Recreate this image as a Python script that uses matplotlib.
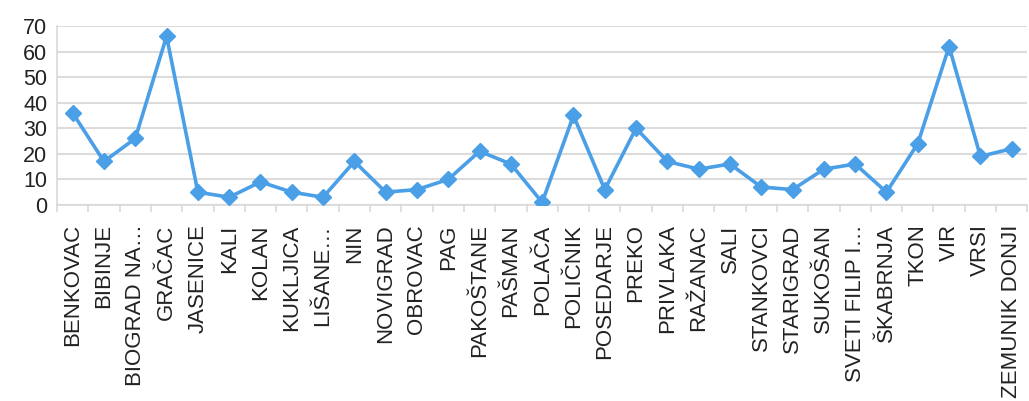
import matplotlib
matplotlib.use("Agg")
import matplotlib.pyplot as plt
from matplotlib.ticker import FixedLocator

categories = ["BENKOVAC", "BIBINJE", "BIOGRAD NA…", "GRAČAC", "JASENICE", "KALI", "KOLAN",
              "KUKLJICA", "LIŠANE…", "NIN", "NOVIGRAD", "OBROVAC", "PAG", "PAKOŠTANE",
              "PAŠMAN", "POLAČA", "POLIČNIK", "POSEDARJE", "PREKO", "PRIVLAKA", "RAŽANAC",
              "SALI", "STANKOVCI", "STARIGRAD", "SUKOŠAN", "SVETI FILIP I…", "ŠKABRNJA",
              "TKON", "VIR", "VRSI", "ZEMUNIK DONJI"]
values = [36, 17, 26, 66, 5, 3, 9, 5, 3, 17, 5, 6, 10, 21, 16, 1, 35, 6, 30, 17, 14,
          16, 7, 6, 14, 16, 5, 24, 62, 19, 22]
y_ticks = [0, 10, 20, 30, 40, 50, 60, 70]

plt.rcParams['font.family'] = ['Liberation Sans', 'DejaVu Sans']

fig = plt.figure(figsize=(10.29, 4.01), dpi=100)
ax = fig.add_axes([0.0554, 0.489, 0.943, 0.446])

x = list(range(len(categories)))
ax.plot(x, values, color="#4a9fe6", linewidth=2.6, marker="D", markersize=8.5,
        markeredgecolor="#4a9fe6", markerfacecolor="#4a9fe6", zorder=3)

ax.set_xlim(-0.5, len(categories) - 0.5)
ax.set_ylim(0, 70)
ax.set_yticks(y_ticks)
ax.set_yticklabels([str(v) for v in y_ticks], fontsize=15.5, color="#222222")
ax.grid(axis="y", color="#dcdcdc", linewidth=1.5, zorder=0)

ax.set_xticks(x)
ax.set_xticklabels(categories, rotation=90, fontsize=16, color="#222222")
ax.tick_params(axis="x", which="major", length=0, pad=14)
ax.xaxis.set_minor_locator(FixedLocator([i - 0.5 for i in range(len(categories) + 1)]))
ax.tick_params(axis="x", which="minor", length=5, color="#d9d9d9", width=1.2)
ax.tick_params(axis="y", length=0, pad=7)

for s in ["top", "right"]:
    ax.spines[s].set_visible(False)
ax.spines["left"].set_color("#d9d9d9")
ax.spines["bottom"].set_color("#d9d9d9")
ax.spines["left"].set_linewidth(1.2)
ax.spines["bottom"].set_linewidth(1.2)

fig.savefig("out.png", dpi=100)
